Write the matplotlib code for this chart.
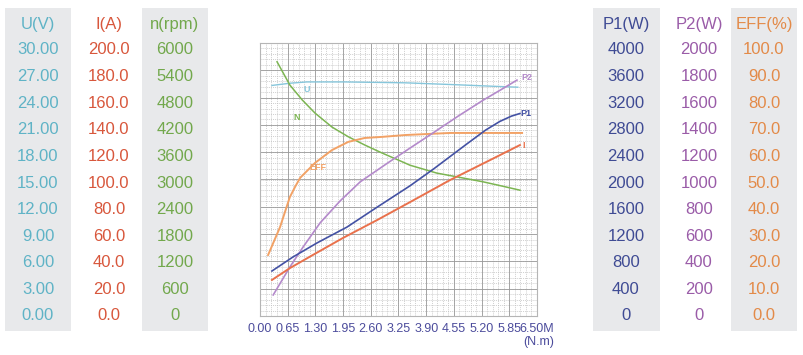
import matplotlib
matplotlib.use("Agg")
import matplotlib.pyplot as plt
from matplotlib.patches import Rectangle
import numpy as np

plt.rcParams['font.family'] = ['Liberation Sans', 'DejaVu Sans']

# ---- table tick labels ----
U_ticks = ["30.00", "27.00", "24.00", "21.00", "18.00", "15.00", "12.00", "9.00", "6.00", "3.00", "0.00"]
I_ticks = ["200.0", "180.0", "160.0", "140.0", "120.0", "100.0", "80.0", "60.0", "40.0", "20.0", "0.0"]
N_ticks = ["6000", "5400", "4800", "4200", "3600", "3000", "2400", "1800", "1200", "600", "0"]
P1_ticks = ["4000", "3600", "3200", "2800", "2400", "2000", "1600", "1200", "800", "400", "0"]
P2_ticks = ["2000", "1800", "1600", "1400", "1200", "1000", "800", "600", "400", "200", "0"]
EFF_ticks = ["100.0", "90.0", "80.0", "70.0", "60.0", "50.0", "40.0", "30.0", "20.0", "10.0", "0.0"]

# ---- x axis ----
torque_ticks = [0.00, 0.65, 1.30, 1.95, 2.60, 3.25, 3.90, 4.55, 5.20, 5.85, 6.50]
torque_labels = ["0.00", "0.65", "1.30", "1.95", "2.60", "3.25", "3.90", "4.55", "5.20", "5.85", "6.50M"]

# ---- curves (torque N.m, value in own unit) ----
U_T = [0.28, 0.7, 1.1, 2.0, 2.7, 3.4, 4.5, 5.5, 6.05]
U_V = [26.3, 26.55, 26.7, 26.7, 26.65, 26.6, 26.4, 26.2, 26.1]

N_T = [0.40, 0.70, 0.99, 1.29, 1.69, 2.07, 2.46, 2.86, 3.24, 3.52, 4.15, 4.70, 5.24, 5.70, 6.10]
N_rpm = [5800, 5270, 4930, 4630, 4310, 4090, 3900, 3720, 3560, 3440, 3260, 3160, 3060, 2960, 2870]

EFF_T = [0.19, 0.47, 0.70, 0.82, 0.94, 1.29, 1.69, 2.07, 2.46, 2.86, 3.40, 4.46, 6.15]
EFF_pct = [23.2, 33.8, 45.2, 49.0, 52.5, 58.2, 63.1, 66.2, 67.7, 68.1, 68.8, 69.6, 69.6]

P2_T = [0.31, 0.70, 1.01, 1.41, 1.88, 2.35, 2.98, 3.45, 4.06, 4.65, 5.24, 5.65, 6.03]
P2_W = [160, 372, 524, 708, 875, 1020, 1160, 1262, 1392, 1520, 1642, 1720, 1794]

P1_T = [0.28, 0.77, 1.34, 2.04, 2.75, 3.52, 4.06, 4.86, 5.30, 5.63, 5.90, 6.10]
P1_W = [684, 896, 1112, 1352, 1656, 1980, 2230, 2620, 2830, 2960, 3040, 3080]

I_T = [0.28, 0.70, 1.24, 1.95, 2.75, 3.52, 4.46, 5.40, 6.10]
I_A = [27.4, 36.4, 46.4, 59.4, 73.0, 86.6, 103.4, 118.6, 130.0]

# colours
c_U_txt, c_U = "#5fb3c6", "#86c6db"
c_I_txt, c_I = "#d8573c", "#e9714c"
c_N_txt, c_N = "#72a84c", "#7cb552"
c_P1_txt, c_P1 = "#3f4b94", "#4452a4"
c_P2_txt, c_P2 = "#9a5ca8", "#b48acb"
c_E_txt, c_E = "#e38a48", "#f2a266"
gray_bg = "#e8e9eb"

W, H = 804, 355
fig = plt.figure(figsize=(W / 100, H / 100), dpi=100)

def fx(px):
    return px / W

def fy(py):
    return 1 - py / H

# gray column backgrounds
for x0, x1 in [(5, 71), (142, 208), (593, 660), (731, 797)]:
    fig.patches.append(Rectangle((fx(x0), fy(331)), fx(x1) - fx(x0), fy(8) - fy(331),
                                 transform=fig.transFigure, facecolor=gray_bg, edgecolor="none", zorder=0))

row_top, row_bot = 50, 316
rows = np.linspace(row_top, row_bot, 11)
header_y = 24

cols = [
    (38, "U(V)", U_ticks, c_U_txt),
    (109, "I(A)", I_ticks, c_I_txt),
    (175, "n(rpm)", N_ticks, c_N_txt),
    (626, "P1(W)", P1_ticks, c_P1_txt),
    (699, "P2(W)", P2_ticks, c_P2_txt),
    (764, "EFF(%)", EFF_ticks, c_E_txt),
]
for cx, head, ticks, col in cols:
    fig.text(fx(cx), fy(header_y), head, color=col, fontsize=12, ha="center", va="center")
    for ry, t in zip(rows, ticks):
        fig.text(fx(cx), fy(ry), t, color=col, fontsize=12, ha="center", va="center")

# ---- chart ----
left, right, top, bottom = 260, 537, 43, 316
ax = fig.add_axes([fx(left), fy(bottom), fx(right) - fx(left), fy(top) - fy(bottom)])
px_per_unit = 26.3
ytop = (bottom - top) / px_per_unit
ax.set_xlim(0, 6.5)
ax.set_ylim(0, ytop)

# grid
for v in np.linspace(0, 6.5, 51):
    ax.axvline(v, color="#bfbfbf", lw=0.5, ls=(0, (1.5, 1.5)), zorder=1)
for v in np.linspace(0, ytop, 51):
    ax.axhline(v, color="#bfbfbf", lw=0.5, ls=(0, (1.5, 1.5)), zorder=1)
for v in np.linspace(0, 6.5, 11):
    ax.axvline(v, color="#9a9a9a", lw=0.6, zorder=1)
for v in np.linspace(0, ytop, 11):
    ax.axhline(v, color="#9a9a9a", lw=0.6, zorder=1)

for s in ax.spines.values():
    s.set_color("#b5b5b5")
    s.set_linewidth(0.8)

ax.set_xticks(torque_ticks)
ax.set_xticklabels(torque_labels)
ax.set_yticks([])
ax.tick_params(axis="x", length=0, pad=5, labelsize=9, labelcolor="#4c4c9c")

def norm(vals, ticks):
    top_v = float(ticks[0])
    return [v / top_v * 10 for v in vals]

ax.plot(U_T, norm(U_V, U_ticks), color=c_U, lw=1.0, zorder=3)
ax.plot(N_T, norm(N_rpm, N_ticks), color=c_N, lw=1.1, zorder=3)
ax.plot(EFF_T, norm(EFF_pct, EFF_ticks), color=c_E, lw=1.4, zorder=3)
ax.plot(P2_T, norm(P2_W, P2_ticks), color=c_P2, lw=1.2, zorder=3)
ax.plot(P1_T, norm(P1_W, P1_ticks), color=c_P1, lw=1.2, zorder=3)
ax.plot(I_T, norm(I_A, I_ticks), color=c_I, lw=1.4, zorder=3)

def lab(px, py, s, col):
    ax.text((px - left) / (right - left) * 6.5, (bottom - py) / px_per_unit, s, color=col,
            fontsize=6.5, fontweight="bold", ha="center", va="center", zorder=4)

lab(307, 90, "U", c_U)
lab(297, 118, "N", c_N)
lab(318, 167, "EFF", c_E)
lab(527, 77, "P2", c_P2)
lab(526, 113, "P1", c_P1)
lab(524, 146, "I", c_I)

fig.text(fx(539), fy(342), "(N.m)", color="#4c4c9c", fontsize=9, ha="center", va="center")

fig.savefig("out.png", dpi=100)
